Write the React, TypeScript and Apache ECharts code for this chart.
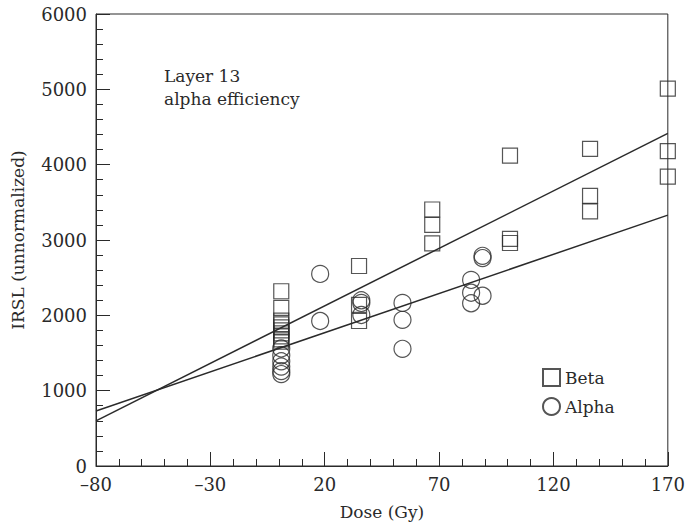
import React, { useEffect, useRef } from "react";
import * as echarts from "echarts";

const betaDose = [1, 1, 1, 1, 1, 1, 1, 1, 1, 1, 35, 35, 35, 67, 67, 67, 101, 101, 101, 136, 136, 136, 170, 170, 170];
const betaIRSL = [2320, 2100, 1930, 1880, 1840, 1800, 1760, 1720, 1680, 1650, 2655, 2140, 1925, 3405, 3200, 2955, 4120, 3015, 2960, 4210, 3585, 3380, 5010, 4180, 3840];

const alphaDose = [1, 1, 1, 1, 1, 1, 18, 18, 36, 36, 36, 54, 54, 54, 84, 84, 84, 89, 89, 89];
const alphaIRSL = [1560, 1470, 1390, 1320, 1260, 1220, 2550, 1925, 2200, 2165, 2005, 2165, 1940, 1555, 2470, 2300, 2160, 2790, 2760, 2260];

const betaFitDose = [-80, 170];
const betaFitIRSL = [600, 4415];
const alphaFitDose = [-80, 170];
const alphaFitIRSL = [730, 3330];

const xTicks = [-80, -30, 20, 70, 120, 170];
const yTicks = [0, 1000, 2000, 3000, 4000, 5000, 6000];

const FONT = "DejaVu Serif";
const INK = "#2a2a2a";

export default function App() {
  const ref = useRef<HTMLDivElement>(null);
  useEffect(() => {
    if (!ref.current) return;
    const chart = echarts.init(ref.current, undefined, { renderer: "svg" });
    const zip = (a: number[], b: number[]) => a.map((v, i) => [v, b[i]]);
    chart.setOption({
      animation: false,
      backgroundColor: "#fff",
      title: {
        text: "Layer 13\nalpha efficiency",
        left: 159,
        top: 59,
        textStyle: { fontFamily: FONT, fontSize: 17, fontWeight: "normal", color: INK, lineHeight: 23 },
      },
      legend: {
        data: ["Beta", "Alpha"],
        orient: "vertical",
        left: 537,
        top: 363,
        itemWidth: 17,
        itemHeight: 17,
        itemGap: 10,
        textStyle: { fontFamily: FONT, fontSize: 17, color: INK },
      },
      grid: {
        left: 96,
        right: 18,
        top: 14,
        bottom: 65,
        show: true,
        borderColor: INK,
        borderWidth: 1,
        backgroundColor: "transparent",
      },
      xAxis: {
        type: "value",
        min: -80,
        max: 170,
        interval: 50,
        name: "Dose (Gy)",
        nameLocation: "middle",
        nameGap: 37,
        nameTextStyle: { fontFamily: FONT, fontSize: 17, color: INK },
        axisLine: { onZero: false, lineStyle: { color: INK, width: 1 } },
        axisTick: { inside: true, length: 14, lineStyle: { color: INK } },
        minorTick: { show: true, splitNumber: 5, length: 7, lineStyle: { color: INK } },
        splitLine: { show: false },
        axisLabel: {
          fontFamily: FONT,
          fontSize: 18,
          color: INK,
          margin: 9,
          formatter: (v: number) => (xTicks.includes(v) ? (v < 0 ? "\u2013" + Math.abs(v) : String(v)) : ""),
        },
      },
      yAxis: {
        type: "value",
        min: 0,
        max: 6000,
        interval: 1000,
        name: "IRSL (unnormalized)",
        nameLocation: "middle",
        nameGap: 70,
        nameTextStyle: { fontFamily: FONT, fontSize: 17, color: INK },
        axisLine: { onZero: false, lineStyle: { color: INK, width: 1 } },
        axisTick: { inside: true, length: 14, lineStyle: { color: INK } },
        minorTick: { show: true, splitNumber: 5, length: 7, lineStyle: { color: INK } },
        splitLine: { show: false },
        axisLabel: {
          fontFamily: FONT,
          fontSize: 18,
          color: INK,
          margin: 9,
          formatter: (v: number) => (yTicks.includes(v) ? String(v) : ""),
        },
      },
      series: [
        {
          name: "BetaFit",
          type: "line",
          data: zip(betaFitDose, betaFitIRSL),
          symbol: "none",
          lineStyle: { color: INK, width: 1.5 },
          silent: true,
        },
        {
          name: "AlphaFit",
          type: "line",
          data: zip(alphaFitDose, alphaFitIRSL),
          symbol: "none",
          lineStyle: { color: INK, width: 1.5 },
          silent: true,
        },
        {
          name: "Beta",
          type: "scatter",
          data: zip(betaDose, betaIRSL),
          symbol: "rect",
          symbolSize: 15,
          itemStyle: { color: "rgba(255,255,255,0)", borderColor: INK, borderWidth: 1.2 },
        },
        {
          name: "Alpha",
          type: "scatter",
          data: zip(alphaDose, alphaIRSL),
          symbol: "circle",
          symbolSize: 17,
          itemStyle: { color: "rgba(255,255,255,0)", borderColor: INK, borderWidth: 1.2 },
        },
      ],
    });
    return () => chart.dispose();
  }, []);
  return <div ref={ref} style={{ width: 688, height: 531, position: "absolute", left: 0, top: 0 }} />;
}
